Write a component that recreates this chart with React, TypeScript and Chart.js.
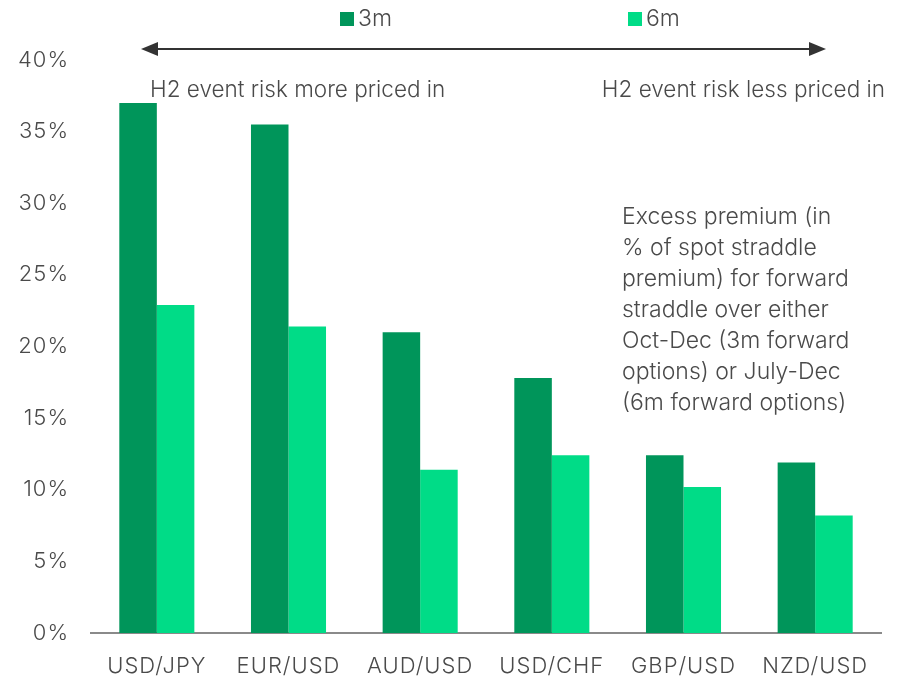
import React, { useEffect, useRef } from "react";
import { Chart, registerables } from "chart.js";

Chart.register(...registerables);

const categories = ["USD/JPY", "EUR/USD", "AUD/USD", "USD/CHF", "GBP/USD", "NZD/USD"];
const series3m = [37.0, 35.5, 21.0, 17.8, 12.4, 11.9];
const series6m = [22.9, 21.4, 11.4, 12.4, 10.2, 8.2];
const seriesLabels = ["3m", "6m"];
const colors = ["#00955A", "#00DC87"];
const noteLines = [
  "Excess premium (in",
  "% of spot straddle",
  "premium) for forward",
  "straddle over either",
  "Oct-Dec (3m forward",
  "options) or July-Dec",
  "(6m forward options)",
];
const leftNote = "H2 event risk more priced in";
const rightNote = "H2 event risk less priced in";

const FONT = "Inter, Roboto, sans-serif";
const TEXT = "#4a4a4a";

const annotations = {
  id: "annotations",
  beforeDraw(chart: any) {
    chart.ctx.letterSpacing = "1px";
  },
  afterDraw(chart: any) {
    const ctx = chart.ctx;
    ctx.save();
    ctx.letterSpacing = "0px";
    ctx.font = `300 23px ${FONT}`;
    ctx.textBaseline = "middle";
    // legend
    const legendX = [340, 628];
    seriesLabels.forEach((lab, i) => {
      ctx.fillStyle = colors[i];
      ctx.fillRect(legendX[i], 12, 14, 14);
      ctx.fillStyle = TEXT;
      ctx.textAlign = "left";
      ctx.fillText(lab, legendX[i] + 18, 19);
    });
    // arrow
    const y = 49;
    ctx.strokeStyle = "#333";
    ctx.fillStyle = "#333";
    ctx.lineWidth = 2;
    ctx.beginPath();
    ctx.moveTo(150, y);
    ctx.lineTo(818, y);
    ctx.stroke();
    ctx.beginPath();
    ctx.moveTo(141, y);
    ctx.lineTo(158, y - 7);
    ctx.lineTo(158, y + 7);
    ctx.closePath();
    ctx.fill();
    ctx.beginPath();
    ctx.moveTo(826, y);
    ctx.lineTo(809, y - 7);
    ctx.lineTo(809, y + 7);
    ctx.closePath();
    ctx.fill();
    // notes
    ctx.fillStyle = TEXT;
    ctx.font = `300 22.5px ${FONT}`;
    ctx.textAlign = "left";
    ctx.fillText(leftNote, 150, 90);
    ctx.textAlign = "right";
    ctx.fillText(rightNote, 885, 90);
    ctx.font = `300 23px ${FONT}`;
    ctx.textAlign = "left";
    noteLines.forEach((l, i) => ctx.fillText(l, 622, 217 + i * 31));
    ctx.restore();
  },
};

export default function App() {
  const ref = useRef<HTMLCanvasElement>(null);
  useEffect(() => {
    const chart = new Chart(ref.current!, {
      type: "bar",
      data: {
        labels: categories,
        datasets: [
          { label: seriesLabels[0], data: series3m, backgroundColor: colors[0] },
          { label: seriesLabels[1], data: series6m, backgroundColor: colors[1] },
        ],
      },
      options: {
        animation: false,
        responsive: false,
        layout: { padding: { top: 60, right: 22, left: 0, bottom: 0 } },
        plugins: { legend: { display: false }, tooltip: { enabled: false } },
        datasets: { bar: { categoryPercentage: 0.57, barPercentage: 1 } },
        scales: {
          x: {
            grid: { display: false },
            border: { display: true, color: "#8a8a8a", width: 2 },
            ticks: { color: TEXT, font: { family: FONT, size: 22, weight: "300" }, padding: 12 },
            afterFit(s: any) {
              s.height = 45;
            },
          },
          y: {
            min: 0,
            max: 40,
            grid: { display: false },
            border: { display: false },
            ticks: {
              stepSize: 5,
              color: TEXT,
              padding: 14,
              font: { family: FONT, size: 22, weight: "300" },
              callback: (v: any) => v + "%",
            },
            afterFit(s: any) {
              s.width = 91;
            },
          },
        },
      },
      plugins: [annotations],
    });
    return () => chart.destroy();
  }, []);
  return (
    <div style={{ position: "fixed", left: 0, top: 0, width: 903, height: 678, background: "#fff" }}>
      <canvas ref={ref} width={903} height={678} />
    </div>
  );
}
